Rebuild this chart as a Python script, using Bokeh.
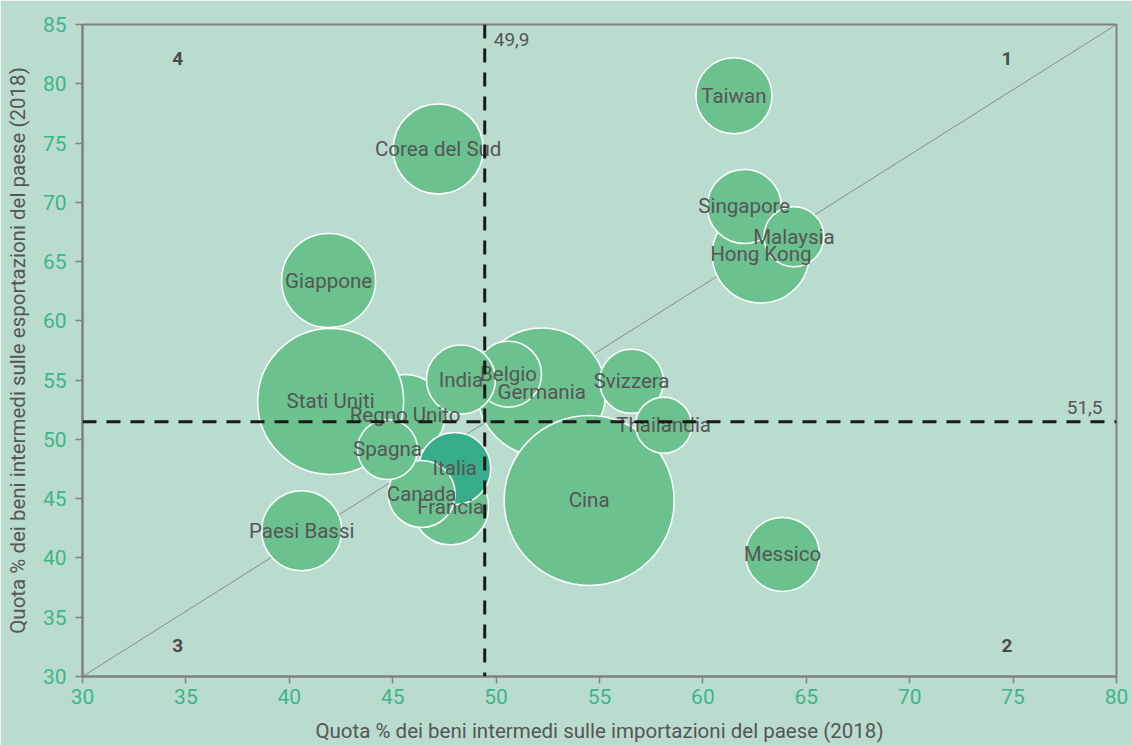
from bokeh.plotting import figure
from bokeh.models import ColumnDataSource, Span, Label, FixedTicker
from bokeh.core.properties import value
from bokeh.embed import file_html
from bokeh.resources import INLINE

# ---- data ----
paesi = ["Regno Unito", "Stati Uniti", "Giappone", "Corea del Sud", "Paesi Bassi",
         "Germania", "Belgio", "India", "Francia", "Italia", "Canada", "Spagna",
         "Cina", "Svizzera", "Thailandia", "Hong Kong", "Singapore", "Malaysia",
         "Taiwan", "Messico"]
import_quota = [45.6, 42.0, 41.9, 47.2, 40.6, 52.2, 50.6, 48.3, 47.8, 48.0, 46.4, 44.75,
                54.5, 56.55, 58.1, 62.8, 62.0, 64.4, 61.5, 63.85]
export_quota = [52.1, 53.2, 63.4, 74.5, 42.3, 54.0, 55.5, 55.05, 44.3, 47.55, 45.4, 49.15,
                44.85, 54.9, 51.2, 65.6, 69.65, 67.1, 79.0, 40.3]
dimensione = [80, 146, 94, 90, 80, 128, 66, 69, 76, 72, 67, 60,
              170, 64, 56, 97, 74, 60, 76, 74]
colori = ["#6bc28f"] * len(paesi)
colori[paesi.index("Italia")] = "#38ad8b"

soglia_import = 49.45
soglia_import_label = "49,9"
soglia_export = 51.5
soglia_export_label = "51,5"

quadranti = ["1", "2", "3", "4"]
quad_x = [74.7, 74.7, 34.6, 34.6]
quad_y = [82.1, 32.6, 32.6, 82.1]

x_ticks = list(range(30, 81, 5))
y_ticks = list(range(30, 86, 5))

BG = "#badccf"
TICK_COL = "#3db58a"
TEXT_COL = "#555555"
FONT = "Roboto"

src = ColumnDataSource(dict(x=import_quota, y=export_quota, size=dimensione,
                            name=paesi, color=colori))

p = figure(width=1132, height=745, x_range=(30, 80), y_range=(30, 85),
           output_backend="svg", toolbar_location=None,
           min_border_left=82, min_border_right=16, min_border_top=24, min_border_bottom=69)
p.background_fill_color = BG
p.border_fill_color = BG
p.outline_line_color = "#808080"
p.outline_line_width = 2
p.grid.visible = False

# diagonal
p.line([30, 80], [30, 85], line_color="#8a8a8a", line_width=1)

p.scatter("x", "y", size="size", source=src, fill_color="color", line_color="white",
          line_width=1.5, marker="circle")

p.text("x", "y", text="name", source=src, text_align="center", text_baseline="middle",
       text_font_size="20.5px", text_color=TEXT_COL, text_font=value(FONT))

for ax_span in [Span(location=soglia_import, dimension="height"),
                Span(location=soglia_export, dimension="width")]:
    ax_span.line_color = "#1a1a1a"
    ax_span.line_width = 3
    ax_span.line_dash = "14 10"
    p.add_layout(ax_span)

p.add_layout(Label(x=soglia_import, y=85, text=soglia_import_label, x_offset=9, y_offset=-8,
                   text_baseline="top", text_font_size="19px", text_color=TEXT_COL,
                   text_font=FONT))
p.add_layout(Label(x=80, y=soglia_export, text=soglia_export_label, x_offset=-14, y_offset=8,
                   text_align="right", text_baseline="bottom", text_font_size="19px",
                   text_color=TEXT_COL, text_font=FONT))

p.text(quad_x, quad_y, text=quadranti, text_align="center", text_baseline="middle",
       text_font_size="19px", text_font_style="bold", text_color="#4a4a4a",
       text_font=value(FONT))

for ax, ticks in ((p.xaxis, x_ticks), (p.yaxis, y_ticks)):
    ax.ticker = FixedTicker(ticks=ticks)
    ax.axis_line_color = "#808080"
    ax.axis_line_width = 2
    ax.major_tick_line_color = "#808080"
    ax.major_tick_line_width = 1.5
    ax.major_tick_out = 7
    ax.major_tick_in = 0
    ax.minor_tick_line_color = None
    ax.major_label_text_color = TICK_COL
    ax.major_label_text_font_size = "21px"
    ax.major_label_text_font = FONT
    ax.axis_label_text_color = TEXT_COL
    ax.axis_label_text_font_size = "20.5px"
    ax.axis_label_text_font = FONT
    ax.axis_label_text_font_style = "normal"

p.yaxis.major_label_standoff = 9
p.xaxis.major_label_standoff = 5
p.xaxis.axis_label = "Quota % dei beni intermedi sulle importazioni del paese (2018)"
p.yaxis.axis_label = "Quota % dei beni intermedi sulle esportazioni del paese (2018)"
p.xaxis.axis_label_standoff = 12
p.yaxis.axis_label_standoff = 10

open("out.html", "w").write(file_html(p, INLINE))
